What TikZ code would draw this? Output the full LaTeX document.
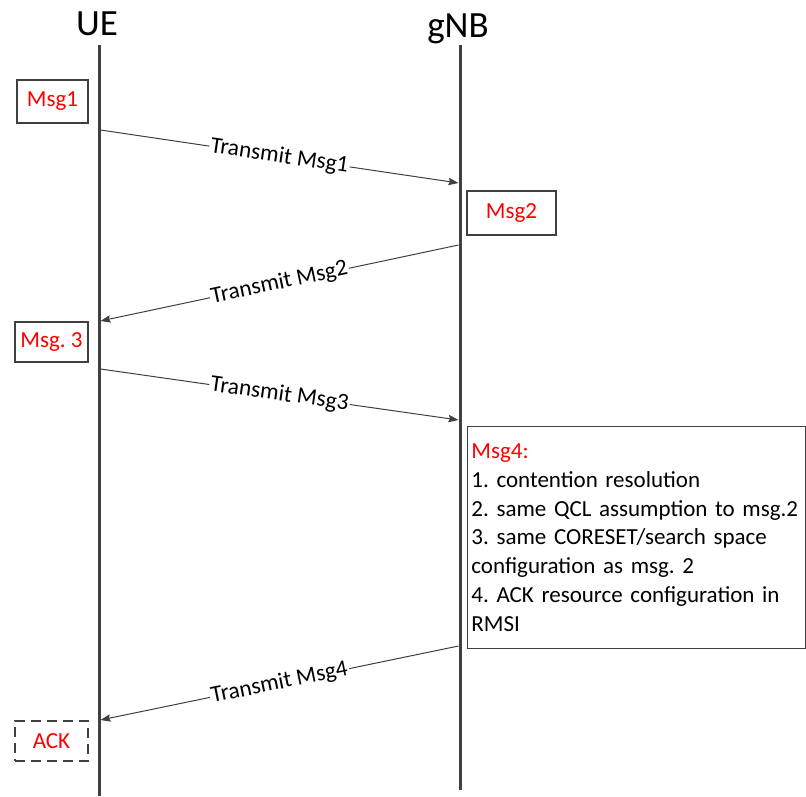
\documentclass[tikz,border=0pt]{standalone}
\usepackage{fontspec}
\setmainfont{Carlito}
\usetikzlibrary{arrows.meta}
\frenchspacing

\tikzset{
  lifeline/.style={line width=2.25pt, draw=black!75},
  msgbox/.style={draw=black!75, line width=1.1pt, text=red, inner sep=0pt,
    font=\fontsize{17.25pt}{21.6pt}\selectfont},
  ackbox/.style={msgbox, dash pattern=on 7.5pt off 4.5pt},
  msgarrow/.style={draw=black!75, line width=0.75pt,
    -{Stealth[length=7.5pt,width=5.5pt,inset=1pt]}},
  msglabel/.style={sloped, fill=white, inner sep=1pt,
    font=\fontsize{17.5pt}{21.6pt}\selectfont},
  entity/.style={inner sep=0pt, anchor=base,
    font=\fontsize{27.75pt}{33pt}\selectfont}
}

\begin{document}
\begin{tikzpicture}[x=0.75pt, y=-0.75pt]
  \useasboundingbox (0,0) rectangle (806,796);

  % entities and lifelines
  \node[entity] (ue) at (97,36) {UE};
  \node[entity] (gnb) at (458,37) {gNB};
  \coordinate (ueTop) at (99,45);
  \coordinate (ueBot) at (99,796);
  \coordinate (gnbTop) at (460,45);
  \coordinate (gnbBot) at (460,790);
  \draw[lifeline] (ueTop) -- (ueBot);
  \draw[lifeline] (gnbTop) -- (gnbBot);

  % message boxes
  \node[msgbox, minimum width=53.25pt, minimum height=32.25pt] (msg1) at (52.5,101.5) {Msg1};
  \node[msgbox, minimum width=66.75pt, minimum height=33pt] (msg2) at (511.5,213) {Msg2};
  \node[msgbox, minimum width=54.75pt, minimum height=30pt] (msg3) at (51.5,342) {Msg. 3};
  \node[ackbox, minimum width=54.75pt, minimum height=30pt] (ack) at (51.5,741) {ACK};

  \node[draw=black!75, line width=1.1pt, anchor=north west, align=left,
        text width=248pt, inner xsep=2.75pt, inner ysep=12.75pt,
        font=\fontsize{17.25pt}{21.6pt}\selectfont] (msg4) at (467,426)
    {{\color{red}Msg4:}\\
     1. contention resolution\\
     2. same QCL assumption to msg.2\\
     3. same CORESET/search space\\
     configuration as msg. 2\\
     4. ACK resource configuration in\\
     RMSI};

  % arrow end points on the lifelines
  \coordinate (ue1) at (100.5,130);
  \coordinate (gnb1) at (458.5,183);
  \coordinate (gnb2) at (458.5,245);
  \coordinate (ue2) at (100.5,321);
  \coordinate (ue3) at (100.5,369);
  \coordinate (gnb3) at (458.5,420);
  \coordinate (gnb4) at (458.5,646);
  \coordinate (ue4) at (100.5,720);

  % transmissions
  \draw[msgarrow] (ue1) -- node[msglabel] {Transmit Msg1} (gnb1);
  \draw[msgarrow] (gnb2) -- node[msglabel] {Transmit Msg2} (ue2);
  \draw[msgarrow] (ue3) -- node[msglabel] {Transmit Msg3} (gnb3);
  \draw[msgarrow] (gnb4) -- node[msglabel] {Transmit Msg4} (ue4);
\end{tikzpicture}
\end{document}
